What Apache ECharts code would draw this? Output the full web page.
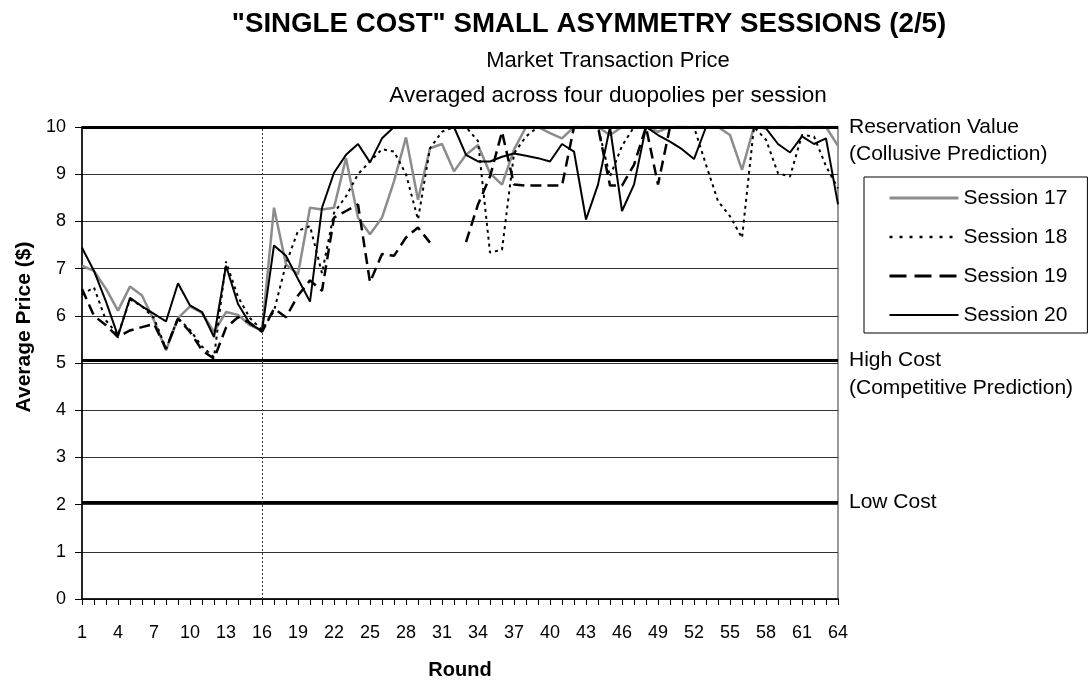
<!DOCTYPE html>
<html>
<head>
<meta charset="utf-8">
<script src="https://cdn.jsdelivr.net/npm/echarts@6/dist/echarts.min.js"></script>
<style>
html,body{margin:0;padding:0;background:#fff;}
#chart{width:1091px;height:685px;}
</style>
</head>
<body>
<div id="chart"></div>
<script>
// ---- data ----
const rounds = Array.from({length: 64}, (_, i) => String(i + 1));
const sessionNames = ['Session 17', 'Session 18', 'Session 19', 'Session 20'];

const session17 = [
  7.06, 6.95, 6.57, 6.11, 6.62, 6.43, 5.90, 5.27, 5.95, 6.20, 6.06, 5.66, 6.08, 6.02, 5.80, 5.68,
  8.29, 7.09, 6.88, 8.29, 8.25, 8.29, 9.34, 8.08, 7.73, 8.08, 8.85, 9.78, 8.46, 9.55, 9.64, 9.06,
  9.41, 9.62, 9.02, 8.78, 9.52, 10, 10, 9.87, 9.76, 10, 10, 10, 9.83, 10, 10, 10,
  9.90, 10, 10, 10, 10, 10, 9.83, 9.09, 10, 10, 10, 10, 10, 10, 10, 9.60
];
const session18 = [
  6.45, 6.60, 5.90, 5.60, 6.35, 6.20, 5.95, 5.30, 5.95, 5.70, 5.35, 5.12, 7.15, 6.40, 5.95, 5.70,
  6.10, 7.10, 7.80, 7.90, 6.90, 8.18, 8.53, 9.00, 9.27, 9.53, 9.48, 9.00, 8.04, 9.55, 9.90, 10,
  10, 9.70, 7.34, 7.40, 9.44, 9.80, 10, 10, 10, 10, 10, 10, 8.95, 9.60, 10, 10,
  10, 10, 10, 10, 9.20, 8.43, 8.11, 7.65, 10, 9.73, 9.02, 8.95, 9.83, 9.80, 9.17, 8.70
];
const session19 = [
  6.57, 6.00, 5.80, 5.55, 5.69, 5.76, 5.83, 5.30, 5.94, 5.66, 5.27, 5.09, 5.75, 5.97, 5.85, 5.66,
  6.15, 5.97, 6.43, 6.75, 6.53, 8.08, 8.22, 8.36, 6.71, 7.31, 7.27, 7.66, 7.87, 7.55, null, null,
  7.56, 8.36, 8.95, 9.90, 8.78, 8.76, 8.76, 8.76, 8.76, 10, 10, 10, 8.76, 8.76, 9.20, 10,
  8.78, 10, 10, 10, 10, 10, 10, 10, 10, 10, 10, 10, 10, 10, 10, 10
];
const session20 = [
  7.44, 6.95, 6.30, 5.57, 6.38, 6.20, 6.04, 5.88, 6.69, 6.22, 6.08, 5.55, 7.06, 6.25, 5.83, 5.68,
  7.49, 7.27, 6.78, 6.30, 8.29, 9.03, 9.41, 9.64, 9.25, 9.76, 10, 10, 10, 10, 10, 10,
  9.41, 9.27, 9.27, 9.37, 9.44, 9.39, 9.34, 9.27, 9.64, 9.48, 8.04, 8.78, 10, 8.22, 8.78, 10,
  9.83, 9.69, 9.53, 9.32, 10, 10, 10, 10, 10, 9.97, 9.64, 9.46, 9.80, 9.64, 9.76, 8.36
];

const referenceLevels = [10, 5.05, 2.05];
const referenceLabels = [
  ['Reservation Value', '(Collusive Prediction)'],
  ['High Cost', '(Competitive Prediction)'],
  ['Low Cost']
];
const phaseBreakRound = '16';
const yTicks = [0, 10, 1]; // min, max, interval

// ---- chart ----
const FONT = '"Liberation Sans", Arial, Helvetica, sans-serif';
const chart = echarts.init(document.getElementById('chart'), null, {renderer: 'canvas'});

const labelBase = {
  show: true, position: 'end', distance: 11, align: 'left',
  color: '#000', fontFamily: FONT, fontSize: 21
};
const refMarks = [];
referenceLevels.forEach((v, i) => {
  const lines = referenceLabels[i];
  refMarks.push({
    yAxis: v,
    lineStyle: {color: '#000', width: 3, type: 'solid'},
    label: Object.assign({}, labelBase, {formatter: lines[0], verticalAlign: 'middle'})
  });
  if (lines.length > 1) {
    refMarks.push({
      yAxis: v,
      lineStyle: {color: 'transparent', width: 0},
      label: Object.assign({}, labelBase, {formatter: lines[1], verticalAlign: 'top', lineHeight: 55})
    });
  }
});

const seriesStyles = [
  {color: '#8c8c8c', width: 2.5, type: 'solid'},
  {color: '#000', width: 2, type: [3, 4]},
  {color: '#000', width: 2.5, type: [11, 6]},
  {color: '#000', width: 2, type: 'solid'}
];
const legendStyles = [
  {color: '#8c8c8c', width: 3, type: 'solid'},
  {color: '#000', width: 2.5, type: [3, 7]},
  {color: '#000', width: 3, type: [17, 8]},
  {color: '#000', width: 2, type: 'solid'}
];

const option = {
  animation: false,
  backgroundColor: '#fff',
  textStyle: {fontFamily: FONT},
  title: [
    {text: '"SINGLE COST" SMALL ASYMMETRY SESSIONS (2/5)', left: 589, top: 24, padding: 0,
     textAlign: 'center', textVerticalAlign: 'middle',
     textStyle: {fontFamily: FONT, fontSize: 27.7, fontWeight: 'bold', color: '#000'}},
    {text: 'Market Transaction Price', left: 608, top: 61, padding: 0,
     textAlign: 'center', textVerticalAlign: 'middle',
     textStyle: {fontFamily: FONT, fontSize: 22, fontWeight: 'normal', color: '#000'}},
    {text: 'Averaged across four duopolies per session', left: 608, top: 96, padding: 0,
     textAlign: 'center', textVerticalAlign: 'middle',
     textStyle: {fontFamily: FONT, fontSize: 22.5, fontWeight: 'normal', color: '#000'}}
  ],
  legend: {
    data: sessionNames.map((n, i) => ({name: n, lineStyle: legendStyles[i]})),
    orient: 'vertical',
    left: 864, top: 177,
    padding: [10, 20, 7, 24],
    itemWidth: 69, itemHeight: 14, itemGap: 17,
    borderColor: '#000', borderWidth: 1, borderRadius: 0,
    backgroundColor: '#fff',
    selectedMode: false,
    itemStyle: {opacity: 0},
    textStyle: {fontFamily: FONT, fontSize: 21, lineHeight: 22, color: '#000'}
  },
  grid: {
    left: 82, right: 253, top: 127, bottom: 83,
    show: true, borderColor: '#999', borderWidth: 2, backgroundColor: 'transparent',
    containLabel: false
  },
  xAxis: {
    type: 'category',
    data: rounds,
    boundaryGap: false,
    name: 'Round',
    nameLocation: 'middle',
    nameGap: 61,
    nameTextStyle: {fontFamily: FONT, fontSize: 20, fontWeight: 'bold', color: '#000'},
    axisLine: {lineStyle: {color: '#000', width: 1.5}},
    axisTick: {show: true, interval: 0, length: 6, lineStyle: {color: '#000', width: 1}},
    axisLabel: {interval: 2, margin: 25, fontFamily: FONT, fontSize: 18, color: '#000'},
    splitLine: {show: false}
  },
  yAxis: {
    type: 'value',
    min: yTicks[0], max: yTicks[1], interval: yTicks[2],
    name: 'Average Price ($)',
    nameLocation: 'middle',
    nameGap: 47,
    nameTextStyle: {fontFamily: FONT, fontSize: 21, fontWeight: 'bold', color: '#000', padding: [0, 0, 0, 72]},
    axisLine: {show: true, lineStyle: {color: '#000', width: 1.5}},
    axisTick: {show: true, length: 7, lineStyle: {color: '#000', width: 1}},
    axisLabel: {margin: 16, fontFamily: FONT, fontSize: 18, color: '#000'},
    splitLine: {show: true, lineStyle: {color: '#333', width: 1}}
  },
  series: [
    {name: sessionNames[0], type: 'line', data: session17, symbol: 'none', z: 3,
     lineStyle: seriesStyles[0], itemStyle: {color: seriesStyles[0].color}},
    {name: sessionNames[1], type: 'line', data: session18, symbol: 'none', z: 4,
     lineStyle: seriesStyles[1], itemStyle: {color: seriesStyles[1].color}},
    {name: sessionNames[2], type: 'line', data: session19, symbol: 'none', z: 5,
     lineStyle: seriesStyles[2], itemStyle: {color: seriesStyles[2].color}},
    {name: sessionNames[3], type: 'line', data: session20, symbol: 'none', z: 6,
     lineStyle: seriesStyles[3], itemStyle: {color: seriesStyles[3].color},
     markLine: {
       silent: true, symbol: ['none', 'none'], animation: false,
       data: refMarks.concat([{
         xAxis: phaseBreakRound,
         lineStyle: {color: '#333', width: 1, type: [2, 2]},
         label: {show: false}
       }])
     }}
  ]
};
chart.setOption(option);
</script>
</body>
</html>
